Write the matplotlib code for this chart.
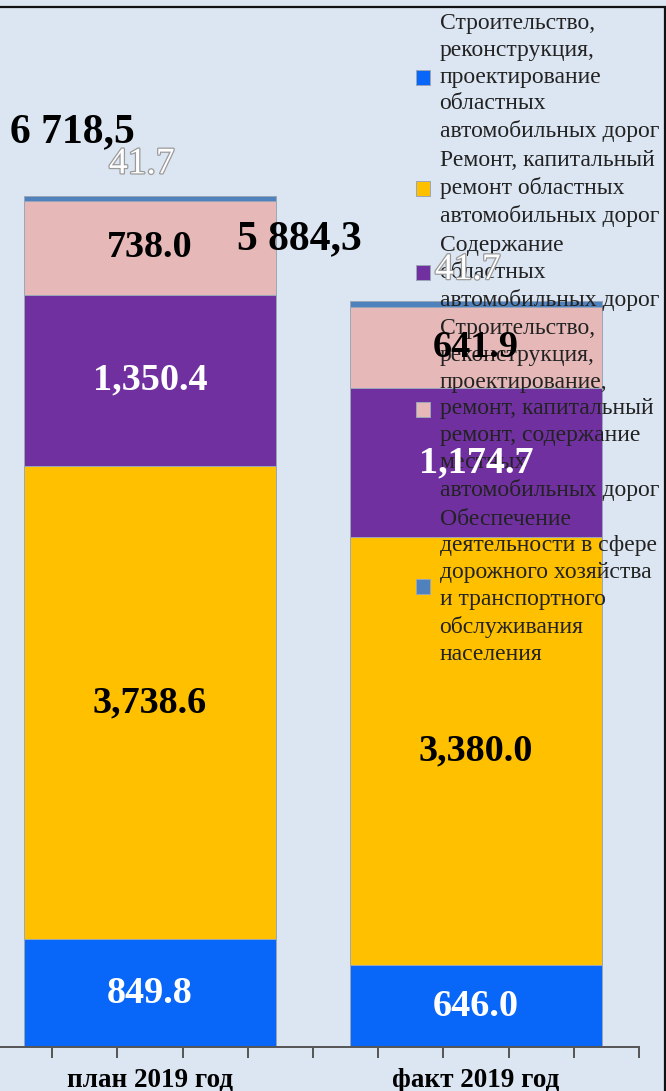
## Stacked bars: road fund plan vs fact 2019

import numpy as np
import matplotlib.pyplot as plt
import matplotlib.patheffects as pe
from matplotlib.patches import Rectangle

categories = ['план 2019 год', 'факт 2019 год']
series_names = [
    'Строительство,\nреконструкция,\nпроектирование\nобластных\nавтомобильных дорог',
    'Ремонт, капитальный\nремонт областных\nавтомобильных дорог',
    'Содержание\nобластных\nавтомобильных дорог',
    'Строительство,\nреконструкция,\nпроектирование,\nремонт, капитальный\nремонт, содержание\nместных\nавтомобильных дорог',
    'Обеспечение\nдеятельности в сфере\nдорожного хозяйства\nи транспортного\nобслуживания\nнаселения',
]
construction = [849.8, 646.0]
repair = [3738.6, 3380.0]
maintenance = [1350.4, 1174.7]
local_roads = [738.0, 641.9]
support = [41.7, 41.7]
totals = ['6 718,5', '5 884,3']

values = [construction, repair, maintenance, local_roads, support]
colors = ['#0866f8', '#ffc000', '#7030a0', '#e6b9b8', '#4f81bd']
label_colors = ['white', 'black', 'white', 'black', None]

bg = '#dce6f2'
serif = ['Liberation Serif', 'DejaVu Serif']

fig = plt.figure(figsize=(6.66, 10.91), dpi=100, facecolor=bg)
ax = fig.add_axes([-13 / 666, 44 / 1091, 652 / 666, 1013.6 / 1091])
ax.set_facecolor(bg)

x = np.arange(len(categories))
bottom = np.zeros(len(categories))
bars = []
for vals, col in zip(values, colors):
    b = ax.bar(x, vals, 0.77, bottom=bottom, color=col,
               edgecolor='#9aa6b8', linewidth=0.7, zorder=2)
    bars.append(b)
    bottom = bottom + np.array(vals)

ax.set_xlim(-0.5, 1.5)
ax.set_ylim(0, 8000)

# value labels inside segments
bottom = np.zeros(len(categories))
for vals, lc in zip(values, label_colors):
    for i, v in enumerate(vals):
        if lc is not None:
            ax.text(x[i], bottom[i] + v / 2, f'{v:,.1f}', ha='center', va='center',
                    color=lc, fontsize=27.5, fontweight='bold', family=serif, zorder=7)
        else:
            ax.text(x[i] - 0.025, bottom[i] + v + 250, f'{v:,.1f}', ha='center',
                    va='center', color='white', fontsize=27, family=serif, zorder=7,
                    path_effects=[pe.withStroke(linewidth=1.8, foreground='#9a9a9a')])
    bottom = bottom + np.array(vals)

# totals
ax.text(-0.43, bottom[0] + 500, totals[0], ha='left', va='center', fontsize=30,
        fontweight='bold', family=serif, zorder=7)
ax.text(0.267, bottom[1] + 490, totals[1], ha='left', va='center', fontsize=30,
        fontweight='bold', family=serif, zorder=7)

# axes styling
for s in ['top', 'right', 'left']:
    ax.spines[s].set_visible(False)
ax.spines['bottom'].set_color('#555555')
ax.spines['bottom'].set_linewidth(1.4)
ax.set_yticks([])
ax.set_xticks(x)
ax.set_xticklabels(categories, fontsize=19.5, fontweight='bold', family=serif)
ax.tick_params(axis='x', which='major', length=0, pad=15)
ax.set_xticks(np.arange(-0.5, 1.51, 0.2), minor=True)
ax.tick_params(axis='x', which='minor', length=8, width=1.4, color='#555555')

leg = ax.legend([b[0] for b in bars], series_names, loc='upper left',
                bbox_to_anchor=(416 / 666, 1 - 13 / 1091), bbox_transform=fig.transFigure,
                frameon=False, prop={'family': serif, 'size': 17},
                handlelength=0.6, handleheight=0.6, handletextpad=0.4,
                labelspacing=0.32, borderpad=0, borderaxespad=0)
leg.set_zorder(5)
for t in leg.get_texts():
    t.set_color('#222222')
    t.set_linespacing(1.36)

# outer frame
fig.patches.append(Rectangle((-0.01, -0.01), 665 / 666 + 0.01, 1 - 6.5 / 1091 + 0.01,
                             transform=fig.transFigure, fill=False,
                             edgecolor='#111111', linewidth=1.6, zorder=10))

fig.savefig('out.png', dpi=100, facecolor=bg)
